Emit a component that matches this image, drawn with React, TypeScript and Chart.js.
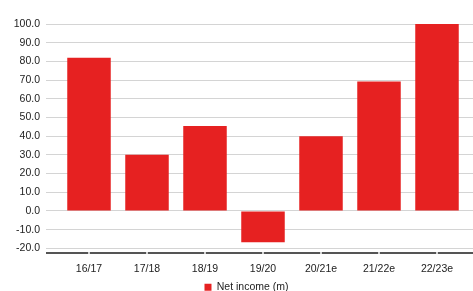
import React, { useEffect, useRef } from "react";
import { Chart, registerables } from "chart.js";

Chart.register(...registerables);

const categories = ["16/17", "17/18", "18/19", "19/20", "20/21e", "21/22e", "22/23e"];
const netIncome = [82, 30, 45.5, -16.8, 40, 69.2, 100];
const yTicks = [-20, -10, 0, 10, 20, 30, 40, 50, 60, 70, 80, 90, 100];
const seriesLabel = "Net income (m)";

const RED = "#e62121";
const GRID = "#d4d4d4";
const TEXT = "#222222";
const FONT = "'Liberation Sans', Arial, Helvetica, sans-serif";

const baselinePlugin = {
  id: "baseline",
  afterDraw(chart: any) {
    const { ctx, chartArea, scales } = chart;
    const y = chartArea.bottom;
    const left = chartArea.left - 14;
    const right = chartArea.right + 7;
    ctx.save();
    ctx.strokeStyle = "#555555";
    ctx.lineWidth = 2;
    ctx.beginPath();
    ctx.moveTo(left, y);
    ctx.lineTo(right, y);
    ctx.stroke();
    ctx.fillStyle = "#ffffff";
    categories.forEach((_, i) => {
      const px = scales.x.getPixelForTick(i);
      ctx.fillRect(px - 0.75, y - 1.5, 1.5, 3);
    });
    ctx.restore();
  },
};

export default function App() {
  const ref = useRef<HTMLCanvasElement>(null);
  useEffect(() => {
    document.body.style.margin = "0";
    const canvas = ref.current!;
    const keepTicks = (scale: any) => {
      scale.ticks = yTicks.map((v) => ({ value: v }));
    };
    const chart = new Chart(canvas, {
      type: "bar",
      data: {
        labels: categories,
        datasets: [
          {
            label: seriesLabel,
            data: netIncome,
            backgroundColor: RED,
            borderWidth: 0,
            barPercentage: 0.75,
            categoryPercentage: 1,
          },
        ],
      },
      options: {
        responsive: false,
        animation: false,
        devicePixelRatio: 1,
        layout: { padding: { left: 0, top: 24, right: -20, bottom: -11.5 } },
        plugins: {
          tooltip: { enabled: false },
          legend: {
            position: "bottom",
            labels: {
              boxWidth: 7,
              boxHeight: 7,
              padding: 6,
              color: TEXT,
              font: { family: FONT, size: 10.5 },
            },
          },
        },
        scales: {
          x: {
            grid: { display: false, drawTicks: false },
            border: { display: false },
            ticks: { color: TEXT, font: { family: FONT, size: 10.5 }, padding: 9.5, maxRotation: 0 },
            afterFit: (scale: any) => {
              scale.height = 23;
            },
          },
          y: {
            min: -22.5,
            max: 100,
            afterBuildTicks: keepTicks,
            grid: { color: GRID, lineWidth: 1, tickLength: 14, drawTicks: true },
            border: { display: false },
            ticks: {
              color: TEXT,
              font: { family: FONT, size: 10.5 },
              padding: 6,
              callback: (v: any) => Number(v).toFixed(1),
            },
            afterFit: (scale: any) => {
              scale.width = 60;
            },
          },
          y2: {
            position: "right",
            min: -22.5,
            max: 100,
            afterBuildTicks: keepTicks,
            grid: { color: GRID, lineWidth: 1, tickLength: 7, drawTicks: true, drawOnChartArea: false },
            border: { display: false },
            ticks: { display: false },
            afterFit: (scale: any) => {
              scale.width = 27;
            },
          },
        },
      },
      plugins: [baselinePlugin],
    });
    return () => chart.destroy();
  }, []);
  return (
    <div style={{ position: "absolute", left: 0, top: 0, width: 473, height: 291, background: "#fff" }}>
      <canvas ref={ref} width={473} height={291} />
    </div>
  );
}
